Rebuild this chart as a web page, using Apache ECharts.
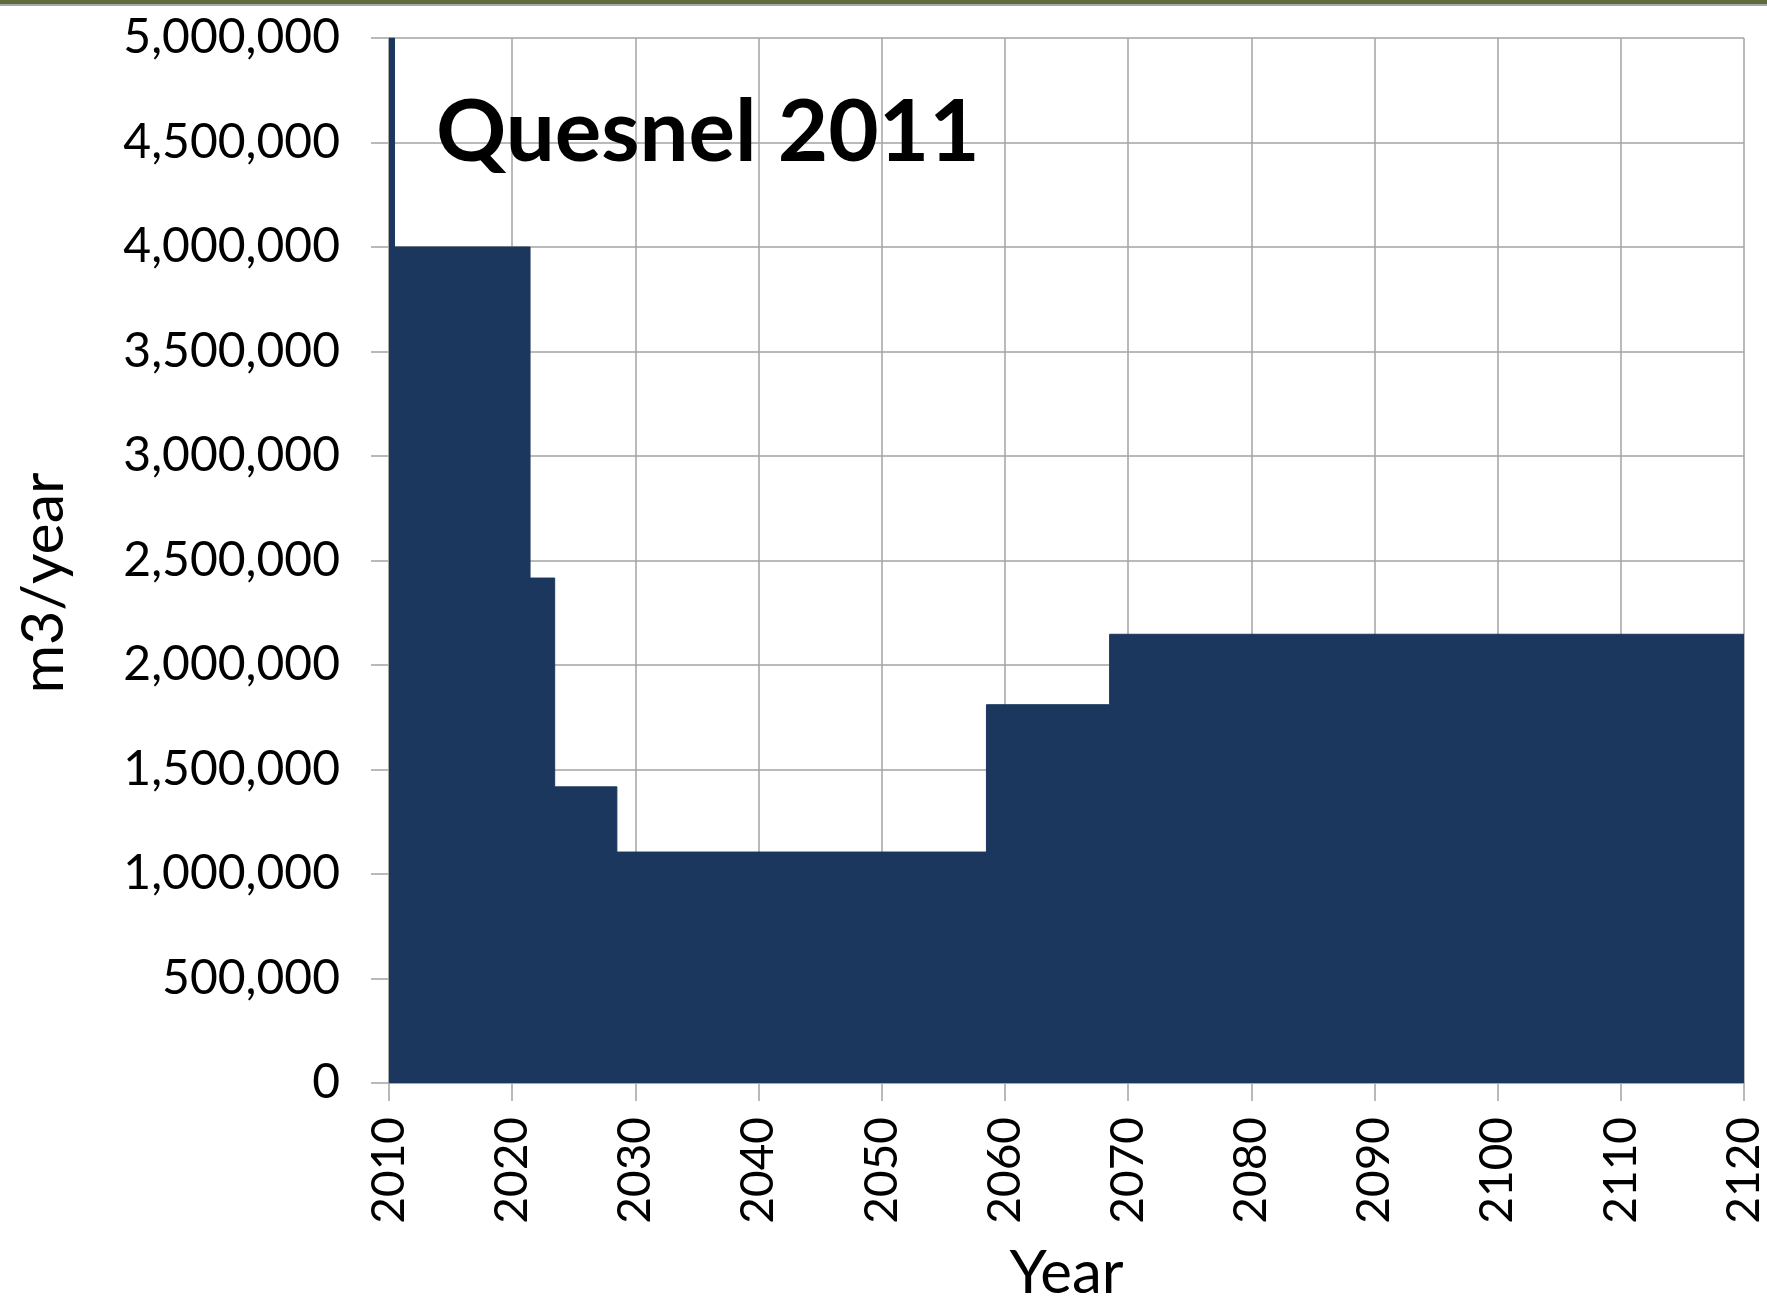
<!DOCTYPE html>
<html>
<head>
<meta charset="utf-8">
<script src="https://cdn.jsdelivr.net/npm/echarts@6/dist/echarts.min.js"></script>
<style>
html,body{margin:0;padding:0;background:#fff;}
#chart{width:1767px;height:1311px;}
</style>
</head>
<body>
<div id="chart"></div>
<script>
// Step boundaries (year where each level starts) and the level (m3/year)
const stepYears  = [2010, 2010.45, 2021.45, 2023.45, 2028.5, 2058.5, 2068.5, 2120];
const stepValues = [5000000, 4000000, 2416000, 1417000, 1105000, 1810000, 2147000, 2147000];
const titleText = 'Quesnel 2011';
const xAxisTitle = 'Year';
const yAxisTitle = 'm3/year';

const FONT = 'Lato, "Open Sans", sans-serif';
const GRID = '#a3a3a3';

const chart = echarts.init(document.getElementById('chart'), null, {renderer: 'canvas'});
chart.setOption({
  animation: false,
  backgroundColor: '#ffffff',
  grid: {left: 389, top: 38, right: 20, bottom: 228, containLabel: false},
  xAxis: {
    type: 'value', min: 2010, max: 2120, interval: 10,
    name: xAxisTitle, nameLocation: 'middle', nameGap: 161,
    nameTextStyle: {fontFamily: FONT, fontSize: 60, color: '#000'},
    axisLine: {show: true, lineStyle: {color: GRID, width: 1.5}},
    axisTick: {show: true, inside: false, length: 18, lineStyle: {color: GRID, width: 1.5}},
    axisLabel: {rotate: 90, margin: 34, fontFamily: FONT, fontSize: 46, color: '#000',
      formatter: v => String(v)},
    splitLine: {show: true, lineStyle: {color: GRID, width: 1.5}}
  },
  yAxis: {
    type: 'value', min: 0, max: 5000000, interval: 500000,
    axisLine: {show: true, lineStyle: {color: GRID, width: 1.5}},
    axisTick: {show: true, inside: false, length: 18, lineStyle: {color: GRID, width: 1.5}},
    axisLabel: {margin: 49, fontFamily: FONT, fontSize: 48, color: '#000',
      formatter: v => v.toLocaleString('en-US')},
    splitLine: {show: true, lineStyle: {color: GRID, width: 1.5}}
  },
  series: [{
    type: 'line',
    step: 'end',
    symbol: 'none',
    data: stepYears.map((y, i) => [y, stepValues[i]]),
    lineStyle: {color: '#1b375e', width: 1},
    areaStyle: {color: '#1b375e', opacity: 1},
    z: 2
  }],
  graphic: [
    {type: 'rect', left: 0, top: 0, shape: {width: 1767, height: 4}, style: {fill: '#5f6b3c'}, z: 10},
    {type: 'rect', left: 0, top: 4, shape: {width: 1767, height: 2}, style: {fill: '#a8a8a8'}, z: 10},
    {type: 'text', x: 436, y: 133, z: 10,
      style: {text: titleText, font: 'bold 87px ' + FONT, fill: '#000', textVerticalAlign: 'middle', textAlign: 'left'}},
    {type: 'text', x: 44, y: 583, rotation: Math.PI / 2, z: 10,
      style: {text: yAxisTitle, font: '59px ' + FONT, fill: '#000', textVerticalAlign: 'middle', textAlign: 'center'}}
  ]
});
</script>
</body>
</html>
